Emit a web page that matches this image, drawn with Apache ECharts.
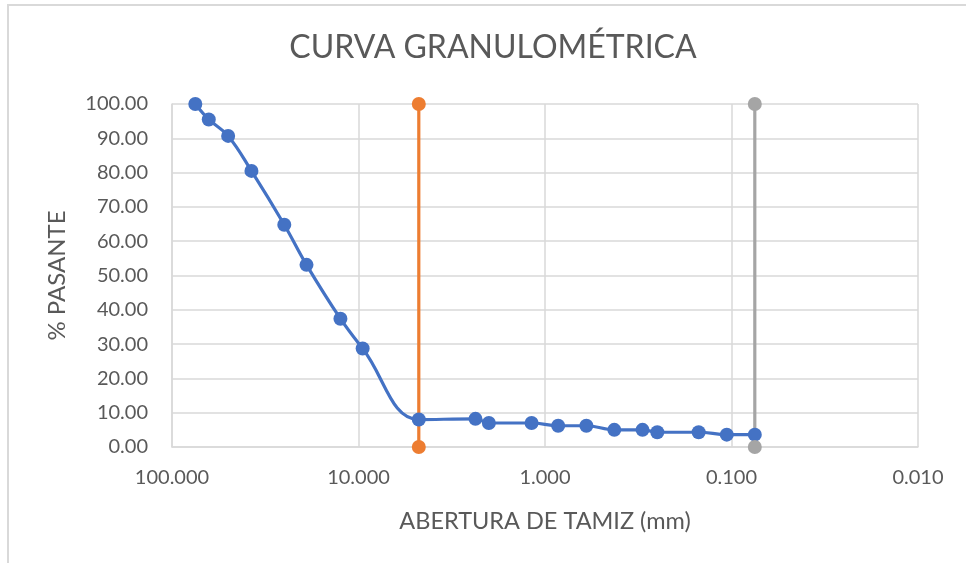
<!DOCTYPE html>
<html>
<head>
<meta charset="utf-8">
<script src="https://cdn.jsdelivr.net/npm/echarts@6/dist/echarts.min.js"></script>
<style>
  html, body { margin: 0; padding: 0; background: #fff; }
  #chart { width: 966px; height: 563px; }
</style>
</head>
<body>
<div id="chart"></div>
<script>
// Sieve openings (mm) and cumulative percent passing
const sieveOpenings = [75, 63.5, 50, 37.5, 25, 19, 12.5, 9.5, 4.75, 2.36, 2.0, 1.18, 0.85, 0.6, 0.425, 0.3, 0.25, 0.15, 0.106, 0.075];
const percentPassing = [100, 95.5, 90.7, 80.5, 64.8, 53.1, 37.4, 28.7, 8.0, 8.2, 7.0, 7.0, 6.2, 6.2, 5.0, 5.0, 4.3, 4.3, 3.6, 3.6];

// Reference verticals: No. 4 sieve and No. 200 sieve
const sieveNo4 = [4.75, 4.75];
const sieveNo200 = [0.075, 0.075];
const verticalSpan = [0, 100];

const xTicks = [100, 10, 1, 0.1, 0.01];

const FONT = 'Lato';
const TEXT = '#595959';
const GRID = '#D9D9D9';

const pair = (xs, ys) => xs.map((x, i) => [x, ys[i]]);

const chart = echarts.init(document.getElementById('chart'), null, { renderer: 'canvas' });
chart.setOption({
  animation: false,
  backgroundColor: '#fff',
  title: {
    text: 'CURVA GRANULOMÉTRICA',
    left: 488,
    textAlign: 'center',
    top: 27,
    textStyle: { fontFamily: FONT, fontSize: 32, fontWeight: 'normal', color: TEXT }
  },
  graphic: [{
    type: 'rect',
    shape: { x: 8, y: 5, width: 1000, height: 600 },
    style: { fill: 'none', stroke: GRID, lineWidth: 2 },
    silent: true
  }],
  grid: { left: 172, right: 48, top: 104, bottom: 116 },
  xAxis: {
    type: 'log',
    logBase: 10,
    min: xTicks[xTicks.length - 1],
    max: xTicks[0],
    inverse: true,
    name: 'ABERTURA DE TAMIZ (mm)',
    nameLocation: 'middle',
    nameGap: 62,
    nameTextStyle: { fontFamily: FONT, fontSize: 23.5, color: TEXT },
    axisLine: { show: true, lineStyle: { color: GRID, width: 1.5 } },
    axisTick: { show: false },
    axisLabel: {
      fontFamily: FONT, fontSize: 20, color: TEXT, margin: 21,
      formatter: v => Number(v).toFixed(3)
    },
    splitLine: { show: true, lineStyle: { color: GRID, width: 1.5 } }
  },
  yAxis: {
    type: 'value',
    min: 0,
    max: 100,
    interval: 10,
    name: '% PASANTE',
    nameLocation: 'middle',
    nameGap: 103,
    nameRotate: 90,
    nameTextStyle: { fontFamily: FONT, fontSize: 24, color: TEXT },
    axisLine: { show: true, lineStyle: { color: GRID, width: 1.5 } },
    axisTick: { show: false },
    axisLabel: {
      fontFamily: FONT, fontSize: 20, color: TEXT, margin: 24,
      formatter: v => v.toFixed(2)
    },
    splitLine: { show: true, lineStyle: { color: GRID, width: 1.5 } }
  },
  series: [
    {
      type: 'line',
      data: pair(sieveOpenings, percentPassing),
      smooth: 0.4,
      symbol: 'circle',
      symbolSize: 14,
      lineStyle: { color: '#4472C4', width: 3.2 },
      itemStyle: { color: '#4472C4' }
    },
    {
      type: 'line',
      data: pair(sieveNo4, verticalSpan),
      symbol: 'circle',
      symbolSize: 14,
      lineStyle: { color: '#ED7D31', width: 3.2 },
      itemStyle: { color: '#ED7D31' }
    },
    {
      type: 'line',
      data: pair(sieveNo200, verticalSpan),
      symbol: 'circle',
      symbolSize: 14,
      lineStyle: { color: '#A5A5A5', width: 3.2 },
      itemStyle: { color: '#A5A5A5' }
    }
  ]
});
</script>
</body>
</html>
